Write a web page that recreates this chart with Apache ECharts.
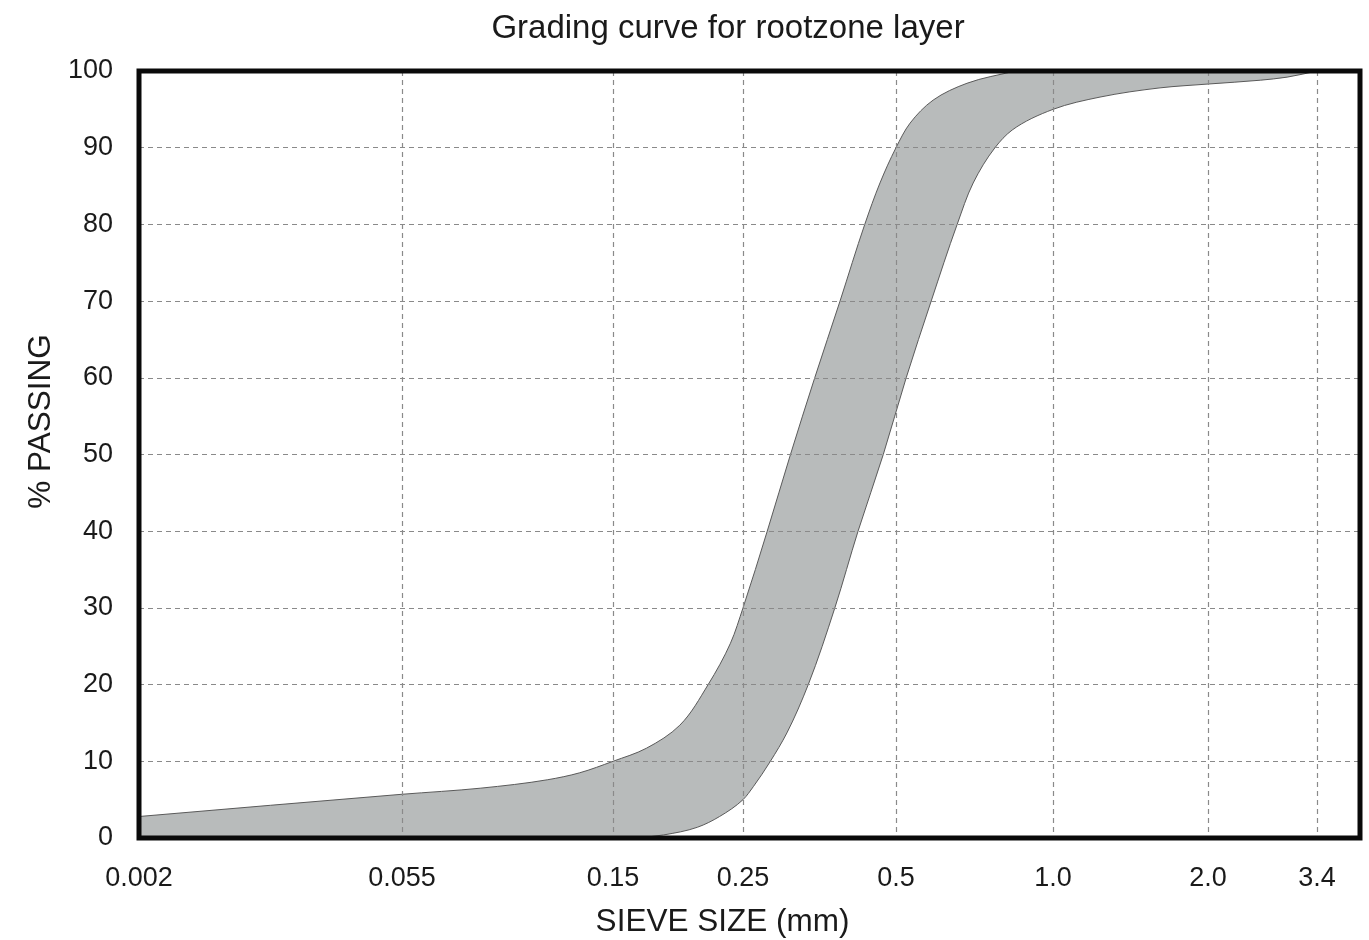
<!DOCTYPE html>
<html>
<head>
<meta charset="utf-8">
<title>Grading curve for rootzone layer</title>
<script src="https://cdn.jsdelivr.net/npm/echarts@6/dist/echarts.min.js"></script>
<style>
  html, body { margin: 0; padding: 0; background: #fff; }
  #chart { width: 1369px; height: 940px; }
</style>
</head>
<body>
<div id="chart"></div>
<script>
// tick labels of the sieve size axis (mm)
var sieveTicks = [0.002, 0.055, 0.15, 0.25, 0.5, 1.0, 2.0, 3.4];
var sieveTickLabels = ['0.002', '0.055', '0.15', '0.25', '0.5', '1.0', '2.0', '3.4'];

// upper (fine) limit of the envelope: sieve size mm / % passing
var upperSize = [0.002, 0.055, 0.08, 0.11, 0.128, 0.15, 0.171, 0.195, 0.218, 0.238, 0.25, 0.279, 0.31, 0.346, 0.388, 0.434, 0.465, 0.5, 0.532, 0.589, 0.684, 0.846];
var upperPass = [2.8, 5.7, 6.5, 7.6, 8.5, 10, 11.7, 14.7, 20, 25.4, 30, 40, 50, 60, 70, 80, 85.4, 90, 93.2, 96.2, 98.4, 100];

// lower (coarse) limit of the envelope
var lowerSize = [0.165, 0.183, 0.209, 0.228, 0.25, 0.262, 0.283, 0.305, 0.336, 0.379, 0.421, 0.472, 0.523, 0.584, 0.655, 0.703, 0.774, 0.835, 1.0, 1.234, 1.614, 2.0, 2.58, 2.94, 3.4];
var lowerPass = [0, 0.4, 1.4, 2.8, 5, 6.7, 10, 13.7, 20, 30, 40, 50, 60, 70, 80, 85.4, 90, 92.3, 95, 96.6, 97.8, 98.3, 98.8, 99.2, 100];

// the printed axis is not a true log axis: each tick sits at its own stop,
// sizes between two ticks are placed logarithmically
var axisStops = [0, 263, 474, 604, 757, 914, 1069, 1178];
var axisEnd = 1221;

function sizeToStop(s) {
  var n = sieveTicks.length;
  var i = 0;
  while (i < n - 2 && s > sieveTicks[i + 1]) i++;
  var a = Math.log(sieveTicks[i]), b = Math.log(sieveTicks[i + 1]);
  return axisStops[i] + (Math.log(s) - a) / (b - a) * (axisStops[i + 1] - axisStops[i]);
}

var upperPts = upperSize.map(function (s, i) { return [sizeToStop(s), upperPass[i]]; });
var lowerPts = lowerSize.map(function (s, i) { return [sizeToStop(s), lowerPass[i]]; });
// outline of the band: upper limit forward, lower limit backward
var outline = upperPts.concat(lowerPts.slice().reverse());

function unit(dx, dy) {
  var L = Math.sqrt(dx * dx + dy * dy) || 1;
  return [dx / L, dy / L];
}

// smooth bezier through the points, tangent = bisector of neighbouring chords
function smoothPath(pts, cmd) {
  var n = pts.length;
  var tan = pts.map(function (p, i) {
    if (i === 0) return unit(pts[1][0] - p[0], pts[1][1] - p[1]);
    if (i === n - 1) return unit(p[0] - pts[i - 1][0], p[1] - pts[i - 1][1]);
    var u0 = unit(p[0] - pts[i - 1][0], p[1] - pts[i - 1][1]);
    var u1 = unit(pts[i + 1][0] - p[0], pts[i + 1][1] - p[1]);
    return unit(u0[0] + u1[0], u0[1] + u1[1]);
  });
  var d = cmd + pts[0][0] + ' ' + pts[0][1];
  for (var i = 0; i < n - 1; i++) {
    var p = pts[i], q = pts[i + 1];
    var len = Math.sqrt((q[0] - p[0]) * (q[0] - p[0]) + (q[1] - p[1]) * (q[1] - p[1])) / 3;
    d += ' C' + (p[0] + tan[i][0] * len) + ' ' + (p[1] + tan[i][1] * len) + ' ' +
      (q[0] - tan[i + 1][0] * len) + ' ' + (q[1] - tan[i + 1][1] * len) + ' ' +
      q[0] + ' ' + q[1];
  }
  return d;
}

var FONT = '"Liberation Sans", Arial, Helvetica, sans-serif';
var INK = '#1a1a1a';

var chart = echarts.init(document.getElementById('chart'), null, { renderer: 'canvas' });

var option = {
  animation: false,
  backgroundColor: '#ffffff',
  title: {
    text: 'Grading curve for rootzone layer',
    left: 723,
    top: 7,
    textAlign: 'center',
    textStyle: { fontFamily: FONT, fontSize: 33, fontWeight: 'normal', color: INK }
  },
  grid: {
    left: 139, right: 9, top: 71, bottom: 102,
    outerBoundsMode: 'none',
    containLabel: false,
    show: true, borderColor: '#0a0a0a', borderWidth: 5, z: 3
  },
  xAxis: {
    type: 'value',
    min: 0,
    max: axisEnd,
    z: 2,
    name: 'SIEVE SIZE (mm)',
    nameLocation: 'middle',
    nameGap: 68,
    nameTextStyle: { fontFamily: FONT, fontSize: 31.5, color: INK, padding: [0, 54, 0, 0] },
    axisLine: { show: false },
    axisTick: { show: false, customValues: axisStops },
    axisLabel: {
      customValues: axisStops,
      margin: 27,
      fontFamily: FONT, fontSize: 27, color: INK,
      formatter: function (v) {
        var i = axisStops.indexOf(Math.round(v));
        return i >= 0 ? sieveTickLabels[i] : '';
      }
    },
    splitLine: { show: true, lineStyle: { color: '#8a8a8a', width: 1.2, type: [5, 4] } }
  },
  yAxis: {
    type: 'value',
    min: 0,
    max: 100,
    interval: 10,
    z: 2,
    name: '% PASSING',
    nameLocation: 'middle',
    nameGap: 80,
    nameRotate: 90,
    nameTextStyle: { fontFamily: FONT, fontSize: 31.5, color: INK, padding: [0, 0, 0, 66] },
    axisLine: { show: false },
    axisTick: { show: false },
    axisLabel: { margin: 26, fontFamily: FONT, fontSize: 27, color: INK, padding: [0, 0, 12, 0] },
    splitLine: { show: true, lineStyle: { color: '#8a8a8a', width: 1.2, type: [5, 4] } }
  },
  series: [{
    type: 'custom',
    name: 'Grading envelope',
    coordinateSystem: 'cartesian2d',
    clip: true,
    z: 1,
    data: outline,
    encode: { x: 0, y: 1 },
    renderItem: function (params, api) {
      if (params.dataIndex !== 0) return null;
      var up = upperPts.map(function (p) { return api.coord(p); });
      var low = lowerPts.slice().reverse().map(function (p) { return api.coord(p); });
      var corner = api.coord([0, 0]);
      // upper curve, along the 100 % line, lower curve back, along 0 % to the start
      var d = smoothPath(up, 'M') + ' ' + smoothPath(low, 'L') +
        ' L' + corner[0] + ' ' + corner[1] + ' Z';
      return {
        type: 'path',
        shape: { pathData: d },
        style: { fill: '#b8bbbb', stroke: '#5a5a5a', lineWidth: 1 }
      };
    }
  }]
};

chart.setOption(option);
</script>
</body>
</html>
